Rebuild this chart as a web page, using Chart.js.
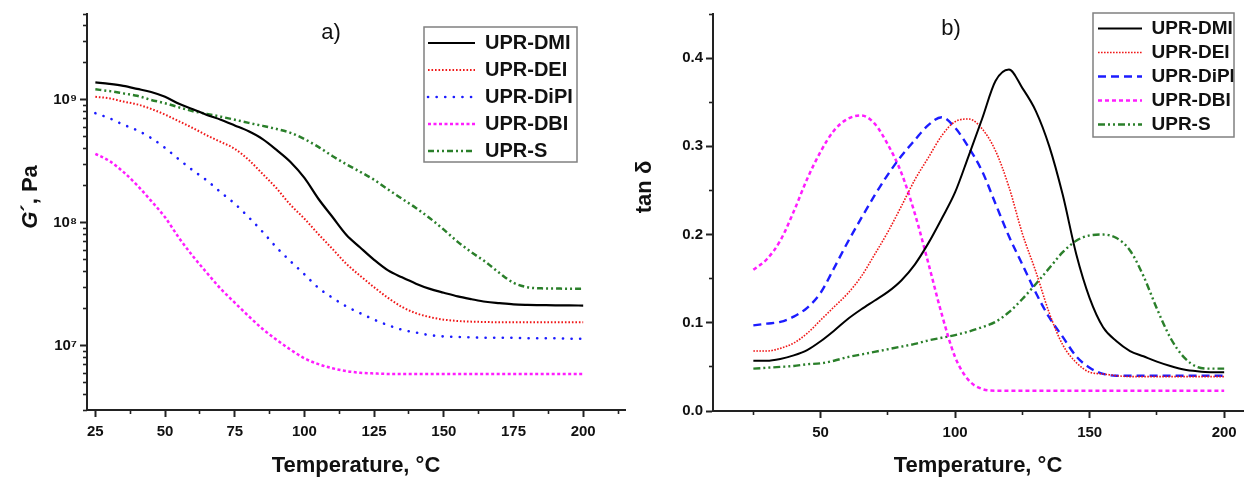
<!DOCTYPE html>
<html>
<head>
<meta charset="utf-8">
<script src="https://cdn.jsdelivr.net/npm/chart.js@4.4.1/dist/chart.umd.min.js"></script>
<style>
  html, body { margin: 0; padding: 0; background: #fff; }
  #wrap { position: relative; width: 1244px; height: 485px; overflow: hidden; }
  canvas { position: absolute; top: 0; }
  #chartA { left: 0; }
  #chartB { left: 630px; }
</style>
</head>
<body>
<div id="wrap">
  <canvas id="chartA" width="630" height="485"></canvas>
  <canvas id="chartB" width="614" height="485"></canvas>
</div>
<script>
'use strict';

const FONT = "'Liberation Sans', Arial, sans-serif";

// temperature grid, degC
const temperature = [25, 30, 35, 40, 45, 50, 55, 60, 65, 70, 75, 80, 85, 90, 95, 100, 105, 110,
                     115, 120, 125, 130, 135, 140, 145, 150, 155, 160, 165, 170, 175, 180, 185, 190, 195, 200];

const seriesNames  = ['UPR-DMI', 'UPR-DEI', 'UPR-DiPI', 'UPR-DBI', 'UPR-S'];
const seriesColors = ['#000000', '#f01818', '#1c1cff', '#ff1cff', '#2a7f2a'];

// a) storage modulus G', Pa
const gDMI  = [1.39e9, 1.35e9, 1.30e9, 1.23e9, 1.16e9, 1.06e9, 9.3e8, 8.4e8, 7.55e8, 6.9e8, 6.2e8, 5.55e8,
               4.8e8, 3.92e8, 3.13e8, 2.32e8, 1.57e8, 1.12e8, 8.0e7, 6.3e7, 5.0e7, 4.1e7, 3.6e7, 3.2e7,
               2.9e7, 2.7e7, 2.52e7, 2.39e7, 2.28e7, 2.22e7, 2.17e7, 2.15e7, 2.14e7, 2.13e7, 2.13e7, 2.12e7];
const gDEI  = [1.06e9, 1.03e9, 9.7e8, 9.2e8, 8.45e8, 7.6e8, 6.7e8, 5.9e8, 5.15e8, 4.55e8, 4.0e8, 3.25e8,
               2.5e8, 1.91e8, 1.40e8, 1.08e8, 8.1e7, 6.15e7, 4.65e7, 3.7e7, 2.99e7, 2.45e7, 2.07e7, 1.84e7,
               1.71e7, 1.63e7, 1.59e7, 1.57e7, 1.56e7, 1.55e7, 1.55e7, 1.55e7, 1.55e7, 1.55e7, 1.55e7, 1.55e7];
const gDiPI = [7.8e8, 7.1e8, 6.3e8, 5.65e8, 4.9e8, 4.07e8, 3.28e8, 2.67e8, 2.21e8, 1.77e8, 1.43e8, 1.11e8,
               8.45e7, 6.3e7, 4.87e7, 3.81e7, 2.96e7, 2.46e7, 2.09e7, 1.84e7, 1.63e7, 1.47e7, 1.35e7, 1.28e7,
               1.22e7, 1.19e7, 1.18e7, 1.17e7, 1.16e7, 1.16e7, 1.16e7, 1.15e7, 1.15e7, 1.15e7, 1.14e7, 1.14e7];
const gDBI  = [3.64e8, 3.19e8, 2.6e8, 2.02e8, 1.51e8, 1.11e8, 7.55e7, 5.35e7, 3.92e7, 2.9e7, 2.24e7, 1.74e7,
               1.37e7, 1.12e7, 9.3e6, 7.9e6, 7.08e6, 6.56e6, 6.22e6, 6.03e6, 5.95e6, 5.9e6, 5.9e6, 5.9e6,
               5.9e6, 5.9e6, 5.9e6, 5.9e6, 5.9e6, 5.9e6, 5.9e6, 5.9e6, 5.9e6, 5.9e6, 5.9e6, 5.9e6];
const gS    = [1.22e9, 1.18e9, 1.13e9, 1.08e9, 1.0e9, 9.4e8, 8.7e8, 8.1e8, 7.7e8, 7.3e8, 6.9e8, 6.5e8,
               6.15e8, 5.8e8, 5.4e8, 4.8e8, 4.15e8, 3.5e8, 3.0e8, 2.6e8, 2.24e8, 1.87e8, 1.57e8, 1.32e8,
               1.09e8, 8.8e7, 7.0e7, 5.75e7, 4.8e7, 3.9e7, 3.25e7, 2.99e7, 2.93e7, 2.92e7, 2.91e7, 2.91e7];

// b) loss factor tan delta
const tanDMI  = [0.057, 0.057, 0.059, 0.063, 0.069, 0.079, 0.091, 0.104, 0.115, 0.125, 0.135, 0.148,
                 0.166, 0.190, 0.218, 0.248, 0.289, 0.331, 0.374, 0.387, 0.366, 0.340, 0.300, 0.245,
                 0.178, 0.128, 0.095, 0.079, 0.068, 0.062, 0.056, 0.051, 0.047, 0.045, 0.044, 0.044];
const tanDEI  = [0.068, 0.068, 0.071, 0.077, 0.088, 0.103, 0.118, 0.133, 0.152, 0.177, 0.203, 0.232,
                 0.262, 0.287, 0.312, 0.328, 0.331, 0.320, 0.295, 0.254, 0.201, 0.158, 0.111, 0.075,
                 0.055, 0.044, 0.042, 0.040, 0.039, 0.039, 0.039, 0.039, 0.039, 0.039, 0.039, 0.039];
const tanDiPI = [0.097, 0.099, 0.101, 0.107, 0.117, 0.134, 0.162, 0.191, 0.218, 0.244, 0.268, 0.289,
                 0.307, 0.324, 0.333, 0.321, 0.299, 0.272, 0.235, 0.198, 0.166, 0.134, 0.106, 0.084,
                 0.062, 0.049, 0.042, 0.040, 0.040, 0.040, 0.040, 0.040, 0.040, 0.040, 0.040, 0.040];
const tanDBI  = [0.160, 0.172, 0.193, 0.226, 0.263, 0.294, 0.318, 0.331, 0.335, 0.326, 0.302, 0.270,
                 0.224, 0.168, 0.110, 0.061, 0.035, 0.025, 0.023, 0.023, 0.023, 0.023, 0.023, 0.023,
                 0.023, 0.023, 0.023, 0.023, 0.023, 0.023, 0.023, 0.023, 0.023, 0.023, 0.023, 0.023];
const tanS    = [0.048, 0.049, 0.050, 0.051, 0.053, 0.054, 0.057, 0.061, 0.064, 0.067, 0.070, 0.073,
                 0.076, 0.080, 0.083, 0.086, 0.090, 0.095, 0.101, 0.112, 0.127, 0.144, 0.162, 0.180,
                 0.193, 0.199, 0.200, 0.196, 0.182, 0.153, 0.116, 0.083, 0.061, 0.050, 0.048, 0.048];

// axis ticks
const xTicksA   = [25, 50, 75, 100, 125, 150, 175, 200];
const xMinorA   = [37.5, 62.5, 87.5, 112.5, 137.5, 162.5, 187.5, 212.5];
const gTicks    = [1e7, 1e8, 1e9];
const gDecades  = [1e6, 1e7, 1e8, 1e9];
const gMinorMul = [2, 3, 4, 5, 6, 7, 8, 9];
const xTicksB   = [50, 100, 150, 200];
const xMinorB   = [25, 75, 125, 175];
const tanTicks  = [0, 0.1, 0.2, 0.3, 0.4];
const tanMinor  = [0.05, 0.15, 0.25, 0.35, 0.45];

const xTitle = 'Temperature, °C';
const supDigits = {'6': '⁶', '7': '⁷', '8': '⁸', '9': '⁹'};

// line looks: [width, dash, cap]
const stylesA = [[2.2, [], 'butt'], [2, [1.6, 1.9], 'butt'], [2.6, [0.1, 8.5], 'round'],
                 [2.5, [3, 2.5], 'butt'], [2.5, [6, 3, 2, 3, 2, 3], 'butt']];
const stylesB = [[2, [], 'butt'], [1.6, [1.6, 1.4], 'butt'], [2.4, [8, 5], 'butt'],
                 [2.5, [4, 3], 'butt'], [2.4, [7, 3, 2, 3, 2, 3], 'butt']];

function toPoints(vals) {
    return temperature.map((t, i) => ({x: t, y: vals[i]}));
}

function buildSets(allVals, styles) {
    return allVals.map((vals, i) => ({
        label: seriesNames[i],
        data: toPoints(vals),
        borderColor: seriesColors[i],
        backgroundColor: seriesColors[i],
        borderWidth: styles[i][0],
        borderDash: styles[i][1],
        borderCapStyle: styles[i][2],
        pointRadius: 0,
        cubicInterpolationMode: 'monotone',
        fill: false,
        xAxisID: 'x',
        yAxisID: 'y'
    }));
}

const tickFont = {family: FONT, size: 15, weight: 'bold'};

function majorAxis(type, pos, min, max, ticks, size, labelFn, tickPad) {
    return {
        type: type, position: pos, weight: 1, min: min, max: max,
        afterBuildTicks: s => { s.ticks = ticks.map(v => ({value: v})); },
        afterFit: s => { if (pos === 'left') s.width = size; else s.height = size; },
        ticks: {autoSkip: false, maxRotation: 0, padding: tickPad, color: '#111',
                font: tickFont, callback: labelFn},
        grid: {drawOnChartArea: false, drawTicks: true, tickLength: 7, tickWidth: 2, tickColor: '#222'},
        border: {display: true, width: 2, color: '#222'}
    };
}

function minorAxis(type, pos, min, max, ticks) {
    return {
        type: type, position: pos, weight: 0, min: min, max: max,
        afterBuildTicks: s => { s.ticks = ticks.map(v => ({value: v})); },
        afterFit: s => { if (pos === 'left') s.width = 0; else s.height = 0; },
        ticks: {display: false},
        grid: {drawOnChartArea: false, drawTicks: true, tickLength: 4, tickWidth: 1.6, tickColor: '#222'},
        border: {display: false}
    };
}

function legendOpts(size, pad, lineW) {
    return {
        display: true,
        position: 'chartArea',
        align: 'start',
        labels: {
            font: {family: FONT, size: size, weight: 'bold'},
            color: '#111',
            padding: pad,
            usePointStyle: true,
            pointStyle: 'line',
            pointStyleWidth: lineW,
            generateLabels: chart => chart.data.datasets.map((ds, i) => ({
                text: ds.label, fontColor: '#111',
                strokeStyle: ds.borderColor, fillStyle: ds.borderColor,
                lineWidth: ds.borderWidth, lineDash: ds.borderDash, lineCap: ds.borderCapStyle,
                pointStyle: 'line', hidden: false, datasetIndex: i
            }))
        }
    };
}

// moves the legend into place and draws frame, titles and panel letter
const panelDecor = {
    id: 'panelDecor',
    afterUpdate(chart, args, o) {
        const lg = chart.legend;
        if (!lg) return;
        lg.left = o.legendX; lg.top = o.legendY;
        lg.width = 200; lg.height = 200;
        lg.right = o.legendX + 200; lg.bottom = o.legendY + 200;
    },
    afterDraw(chart, args, o) {
        const ctx = chart.ctx;
        const area = chart.chartArea;
        ctx.save();
        ctx.strokeStyle = '#808080';
        ctx.lineWidth = 1.5;
        ctx.strokeRect(o.frame[0], o.frame[1], o.frame[2], o.frame[3]);

        ctx.fillStyle = '#111';
        ctx.textBaseline = 'middle';
        ctx.textAlign = 'center';
        ctx.font = 'bold 22px ' + FONT;
        ctx.fillText(xTitle, (area.left + area.right) / 2, 466);

        ctx.font = '22px ' + FONT;
        ctx.fillText(o.letter, o.letterX, o.letterY);

        ctx.translate(o.yTitleX, o.yTitleY);
        ctx.rotate(-Math.PI / 2);
        ctx.textAlign = 'left';
        let total = 0;
        o.yTitle.forEach(p => { ctx.font = p.font; p.w = ctx.measureText(p.text).width; total += p.w; });
        let x = -total / 2;
        o.yTitle.forEach(p => { ctx.font = p.font; ctx.fillText(p.text, x, 0); x += p.w; });
        ctx.restore();
    }
};

const gMinor = [];
gDecades.forEach(d => gMinorMul.forEach(m => {
    if (d * m >= 3e6 && d * m <= 5e9) gMinor.push(d * m);
}));

new Chart(document.getElementById('chartA'), {
    type: 'line',
    data: {datasets: buildSets([gDMI, gDEI, gDiPI, gDBI, gS], stylesA)},
    plugins: [panelDecor],
    options: {
        responsive: false,
        animation: false,
        events: [],
        layout: {padding: {top: 14, right: 5, left: 0, bottom: 0}},
        scales: {
            x:  majorAxis('linear', 'bottom', 22, 215, xTicksA, 75, v => String(v), 6),
            xm: minorAxis('linear', 'bottom', 22, 215, xMinorA),
            y:  majorAxis('logarithmic', 'left', 3e6, 5e9, gTicks, 87,
                          v => '10' + supDigits[String(Math.round(Math.log10(v)))], 3),
            ym: minorAxis('logarithmic', 'left', 3e6, 5e9, gMinor)
        },
        plugins: {
            legend: legendOpts(20, 7, 47),
            tooltip: {enabled: false},
            panelDecor: {
                legendX: 421, legendY: 26,
                frame: [424, 27, 153, 135],
                letter: 'a)', letterX: 331, letterY: 33,
                yTitleX: 31, yTitleY: 197,
                yTitle: [{text: 'G', font: 'italic bold 22px ' + FONT},
                         {text: '´, Pa', font: 'bold 22px ' + FONT}]
            }
        }
    }
});

new Chart(document.getElementById('chartB'), {
    type: 'line',
    data: {datasets: buildSets([tanDMI, tanDEI, tanDiPI, tanDBI, tanS], stylesB)},
    plugins: [panelDecor],
    options: {
        responsive: false,
        animation: false,
        events: [],
        layout: {padding: {top: 14, right: 1, left: 0, bottom: 0}},
        scales: {
            x:  majorAxis('linear', 'bottom', 10, 207, xTicksB, 74, v => String(v), 6),
            xm: minorAxis('linear', 'bottom', 10, 207, xMinorB),
            y:  majorAxis('linear', 'left', 0, 0.45, tanTicks, 83, v => v.toFixed(1), 3),
            ym: minorAxis('linear', 'left', 0, 0.45, tanMinor)
        },
        plugins: {
            legend: legendOpts(19, 5, 44),
            tooltip: {enabled: false},
            panelDecor: {
                legendX: 463, legendY: 14,
                frame: [463, 13, 141, 124],
                letter: 'b)', letterX: 321, letterY: 29,
                yTitleX: 15, yTitleY: 187,
                yTitle: [{text: 'tan δ', font: 'bold 22px ' + FONT}]
            }
        }
    }
});
</script>
</body>
</html>
